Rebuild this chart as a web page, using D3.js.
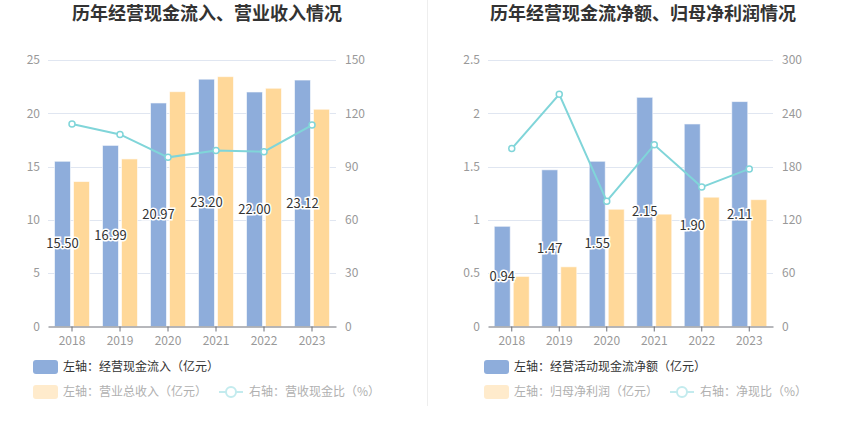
<!DOCTYPE html>
<html>
<head>
<meta charset="utf-8">
<script src="https://cdn.jsdelivr.net/npm/d3@7"></script>
<style>
  body { margin: 0; background: #fff; }
  svg { font-family: "Noto Sans CJK SC", "Noto Sans", sans-serif; }
</style>
</head>
<body>
<div id="chart"></div>
<script>
const width = 850;
const height = 436;

const years = ["2018", "2019", "2020", "2021", "2022", "2023"];

// left panel
const cashInflow = [15.50, 16.99, 20.97, 23.20, 22.00, 23.12];
const revenue = [13.6, 15.72, 22.03, 23.44, 22.35, 20.38];
const cashRevenueRatio = [114.0, 108.1, 95.2, 99.0, 98.4, 113.4];

// right panel
const netCashFlow = [0.94, 1.47, 1.55, 2.15, 1.90, 2.11];
const netProfit = [0.47, 0.56, 1.10, 1.054, 1.213, 1.19];
const netCashRatio = [200.3, 261.4, 141.0, 204.5, 156.9, 177.4];

const leftTicks = [0, 5, 10, 15, 20, 25];
const leftRightTicks = [0, 30, 60, 90, 120, 150];
const rightTicks = [0, 0.5, 1, 1.5, 2, 2.5];
const rightRightTicks = [0, 60, 120, 180, 240, 300];

const blue = "#8eaddb";
const orange = "#ffd899";
const cyan = "#80d5d9";

const svg = d3.select("#chart").append("svg")
    .attr("width", width)
    .attr("height", height);

// divider
svg.append("line")
    .attr("x1", 427.5).attr("x2", 427.5)
    .attr("y1", 0).attr("y2", 406)
    .attr("stroke", "#eeeeee");

function drawPanel(p) {
    const g = svg.append("g");

    g.append("text")
        .attr("x", p.titleX)
        .attr("y", 20)
        .attr("text-anchor", "middle")
        .style("font-size", "18px")
        .style("font-weight", "bold")
        .attr("fill", "#333")
        .text(p.title);

    const x = d3.scaleBand().domain(years).range([p.x0, p.x1]);
    const yL = d3.scaleLinear().domain([0, p.leftTicks[p.leftTicks.length - 1]]).range([326.5, 60]);
    const yR = d3.scaleLinear().domain([0, p.rightTicks[p.rightTicks.length - 1]]).range([326.5, 60]);

    // grid
    g.selectAll(".grid").data(p.leftTicks.slice(1)).enter().append("line")
        .attr("x1", p.x0).attr("x2", p.x1)
        .attr("y1", d => Math.round(yL(d)) + 0.5)
        .attr("y2", d => Math.round(yL(d)) + 0.5)
        .attr("stroke", "#e0e6f1");

    // left axis labels
    g.selectAll(".yl").data(p.leftTicks).enter().append("text")
        .attr("x", p.x0 - 8)
        .attr("y", d => yL(d))
        .attr("dy", "0.35em")
        .attr("text-anchor", "end")
        .style("font-size", "12px")
        .attr("fill", "#999")
        .text(d => d);

    // right axis labels
    g.selectAll(".yr").data(p.rightTicks).enter().append("text")
        .attr("x", p.x1 + 9)
        .attr("y", d => yR(d))
        .attr("dy", "0.35em")
        .attr("text-anchor", "start")
        .style("font-size", "12px")
        .attr("fill", "#999")
        .text(d => d);

    const barW = 16;
    const off = 9.5;

    g.selectAll(".barA").data(p.barA).enter().append("rect")
        .attr("x", (d, i) => x(years[i]) + x.bandwidth() / 2 - off - barW / 2)
        .attr("y", d => yL(d))
        .attr("width", barW)
        .attr("height", d => yL(0) - yL(d))
        .attr("fill", blue)
        .attr("stroke", "rgba(255,255,255,0.6)");

    g.selectAll(".barB").data(p.barB).enter().append("rect")
        .attr("x", (d, i) => x(years[i]) + x.bandwidth() / 2 + off - barW / 2)
        .attr("y", d => yL(d))
        .attr("width", barW)
        .attr("height", d => yL(0) - yL(d))
        .attr("fill", orange)
        .attr("stroke", "rgba(255,255,255,0.6)");

    // x axis
    const xAxis = g.append("g")
        .attr("transform", "translate(0,326.5)")
        .call(d3.axisBottom(x).tickSize(5).tickSizeOuter(0));
    xAxis.select(".domain").attr("stroke", "#6e7079");
    xAxis.selectAll(".tick line").attr("stroke", "#6e7079");
    xAxis.selectAll(".tick text")
        .attr("fill", "#999")
        .style("font-size", "12px")
        .style("font-family", "\"Noto Sans CJK SC\", sans-serif")
        .attr("dy", "0.85em");

    // line
    const line = d3.line()
        .x((d, i) => x(years[i]) + x.bandwidth() / 2)
        .y(d => yR(d));
    g.append("path")
        .datum(p.lineVals)
        .attr("d", line)
        .attr("fill", "none")
        .attr("stroke", cyan)
        .attr("stroke-width", 2);
    g.selectAll(".pt").data(p.lineVals).enter().append("circle")
        .attr("cx", (d, i) => x(years[i]) + x.bandwidth() / 2)
        .attr("cy", d => yR(d))
        .attr("r", 3)
        .attr("fill", "#fff")
        .attr("stroke", cyan)
        .attr("stroke-width", 1.5);

    // value labels
    g.selectAll(".lbl").data(p.barA).enter().append("text")
        .attr("x", (d, i) => x(years[i]) + x.bandwidth() / 2 - off)
        .attr("y", d => (yL(d) + yL(0)) / 2)
        .attr("dy", "0.35em")
        .attr("text-anchor", "middle")
        .style("font-size", "13px")
        .attr("fill", "#333")
        .attr("stroke", "#fff")
        .attr("stroke-width", 3)
        .attr("paint-order", "stroke")
        .text(d => d.toFixed(2));

    // legend
    const lg = g.append("g");
    lg.append("rect")
        .attr("x", p.legendX).attr("y", 360)
        .attr("width", 25).attr("height", 14).attr("rx", 3)
        .attr("fill", blue);
    lg.append("text")
        .attr("x", p.legendX + 30).attr("y", 367).attr("dy", "0.35em")
        .style("font-size", "12px").attr("fill", "#333")
        .text(p.legend[0]);

    lg.append("rect")
        .attr("x", p.legendX).attr("y", 385)
        .attr("width", 25).attr("height", 14).attr("rx", 3)
        .attr("fill", "#ffebcc");
    lg.append("text")
        .attr("x", p.legendX + 30).attr("y", 392).attr("dy", "0.35em")
        .style("font-size", "12px").attr("fill", "#b0b0b0")
        .text(p.legend[1]);

    lg.append("line")
        .attr("x1", p.lineLegendX).attr("x2", p.lineLegendX + 24)
        .attr("y1", 392).attr("y2", 392)
        .attr("stroke", "#c3ebee").attr("stroke-width", 2);
    lg.append("circle")
        .attr("cx", p.lineLegendX + 12).attr("cy", 392).attr("r", 5)
        .attr("fill", "#fff").attr("stroke", "#c3ebee").attr("stroke-width", 2);
    lg.append("text")
        .attr("x", p.lineLegendX + 30).attr("y", 392).attr("dy", "0.35em")
        .style("font-size", "12px").attr("fill", "#b0b0b0")
        .text(p.legend[2]);
}

drawPanel({
    title: "历年经营现金流入、营业收入情况",
    titleX: 207,
    x0: 48, x1: 336,
    leftTicks: leftTicks,
    rightTicks: leftRightTicks,
    barA: cashInflow,
    barB: revenue,
    lineVals: cashRevenueRatio,
    legendX: 33,
    lineLegendX: 219,
    legend: ["左轴：经营现金流入（亿元）", "左轴：营业总收入（亿元）", "右轴：营收现金比（%）"]
});

drawPanel({
    title: "历年经营现金流净额、归母净利润情况",
    titleX: 643,
    x0: 488, x1: 773,
    leftTicks: rightTicks,
    rightTicks: rightRightTicks,
    barA: netCashFlow,
    barB: netProfit,
    lineVals: netCashRatio,
    legendX: 484,
    lineLegendX: 670,
    legend: ["左轴：经营活动现金流净额（亿元）", "左轴：归母净利润（亿元）", "右轴：净现比（%）"]
});
</script>
</body>
</html>
